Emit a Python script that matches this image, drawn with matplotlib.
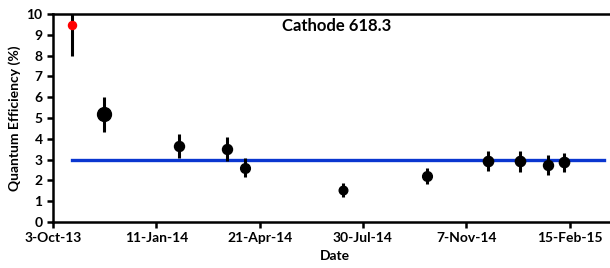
import matplotlib.pyplot as plt
import matplotlib.dates as mdates
import numpy as np
import pandas as pd

plt.rcParams['font.family'] = ['Lato', 'DejaVu Sans']
plt.rcParams['font.weight'] = 'bold'

dates = pd.to_datetime(["2013-10-21", "2013-11-21", "2014-02-02", "2014-03-20", "2014-04-07",
                        "2014-07-11", "2014-09-30", "2014-11-28", "2014-12-29", "2015-01-25",
                        "2015-02-10"])
qe = np.array([9.45, 5.18, 3.67, 3.49, 2.61, 1.55, 2.21, 2.93, 2.92, 2.75, 2.88])
err = np.array([1.45, 0.83, 0.58, 0.58, 0.45, 0.33, 0.40, 0.50, 0.50, 0.47, 0.46])
sizes = [5.8, 10, 7.2, 7.2, 7, 6.2, 7, 7.4, 7.4, 7.2, 7.4]
colors = ["#FF0000"] + ["black"] * 10

ref_start = pd.Timestamp("2013-10-21")
ref_end = pd.Timestamp("2015-03-20")
ref_value = 3

tick_dates = pd.date_range("2013-10-03", periods=6, freq="100D")

fig = plt.figure(figsize=(6.1, 2.68), dpi=100)
ax = fig.add_axes([53 / 610, 46 / 268, 1 - 53 / 610 + 0.01, (222 - 14) / 268])

ax.plot([ref_start, ref_end], [ref_value, ref_value], color="#0A36D0", lw=2.4, zorder=1)

for d, v, e, s, c in zip(dates, qe, err, sizes, colors):
    ax.errorbar(d, v, yerr=e, fmt="o", ms=s, color=c, mec=c, ecolor="black",
                elinewidth=2.2, capsize=0, zorder=3, clip_on=True)

ax.set_ylim(0, 10)
ax.set_yticks(range(0, 11))
ax.set_xlim(pd.Timestamp("2013-10-03"), pd.Timestamp("2015-04-01"))
ax.set_xticks(tick_dates)
ax.xaxis.set_major_formatter(mdates.DateFormatter("%-d-%b-%y"))

for side in ["left", "bottom", "top"]:
    ax.spines[side].set_linewidth(1.8)
ax.spines["right"].set_visible(False)
ax.tick_params(axis="both", direction="out", length=4, width=1.8, labelsize=10)
ax.tick_params(top=False)

ax.set_xlabel("Date", fontsize=10, fontweight="bold", labelpad=4)
ax.set_ylabel("Quantum Efficiency (%)", fontsize=10, fontweight="bold", labelpad=4)
ax.text(0.503, 0.94, "Cathode 618.3", transform=ax.transAxes, fontsize=12,
        fontweight="bold", ha="center", va="center")

fig.savefig("out.png", dpi=100)
